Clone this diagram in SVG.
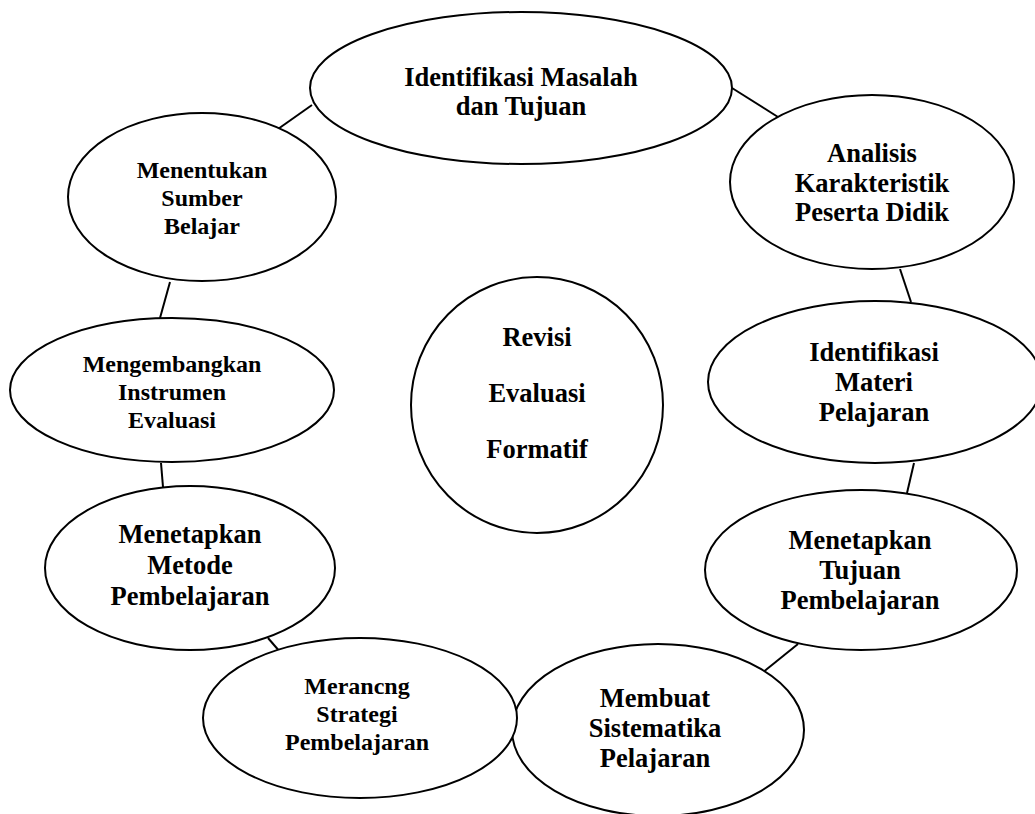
<svg xmlns="http://www.w3.org/2000/svg" width="1035" height="814" viewBox="0 0 1035 814">
<style>
.n{fill:#fff;stroke:#000;stroke-width:2}
.c line{stroke:#000;stroke-width:2}
text{font-family:"Liberation Serif","Times New Roman",serif;font-weight:bold;fill:#000;text-anchor:middle}
.L{font-size:26.5px}
.S{font-size:24px}
</style>
<rect width="1035" height="814" fill="#fff"/>
<g id="connectors" class="c">
<line x1="278" y1="129" x2="312" y2="105"/>
<line x1="732" y1="88" x2="778" y2="117"/>
<line x1="900" y1="269" x2="911" y2="302"/>
<line x1="914" y1="463" x2="907" y2="493"/>
<line x1="798" y1="644" x2="762" y2="673"/>
<line x1="268" y1="638" x2="287" y2="660"/>
<line x1="161" y1="463" x2="163" y2="487"/>
<line x1="170" y1="282" x2="160" y2="318"/>
</g>
<g id="n1"><ellipse class="n" cx="521" cy="88" rx="211" ry="76"/>
<text class="L" x="521" y="86">Identifikasi Masalah</text><text class="L" x="521" y="115">dan Tujuan</text></g>
<g id="n2"><ellipse class="n" cx="872" cy="182" rx="142" ry="87"/>
<text class="L" x="872" y="162">Analisis</text><text class="L" x="872" y="192">Karakteristik</text><text class="L" x="872" y="221">Peserta Didik</text></g>
<g id="n3"><ellipse class="n" cx="875" cy="382" rx="167" ry="81"/>
<text class="L" x="874" y="361">Identifikasi</text><text class="L" x="874" y="391">Materi</text><text class="L" x="874" y="421">Pelajaran</text></g>
<g id="n4"><ellipse class="n" cx="861" cy="570" rx="156" ry="80"/>
<text class="L" x="860" y="549">Menetapkan</text><text class="L" x="860" y="579">Tujuan</text><text class="L" x="860" y="609">Pembelajaran</text></g>
<g id="n5"><ellipse class="n" cx="658" cy="730" rx="146" ry="86"/>
<text class="L" x="655" y="707">Membuat</text><text class="L" x="655" y="737">Sistematika</text><text class="L" x="655" y="767">Pelajaran</text></g>
<g id="n6"><ellipse class="n" cx="360" cy="718" rx="157" ry="80"/>
<text class="S" x="357" y="694">Merancng</text><text class="S" x="357" y="722">Strategi</text><text class="S" x="357" y="750">Pembelajaran</text></g>
<g id="n7"><ellipse class="n" cx="190" cy="568" rx="145" ry="82"/>
<text class="L" x="190" y="543">Menetapkan</text><text class="L" x="190" y="574">Metode</text><text class="L" x="190" y="605">Pembelajaran</text></g>
<g id="n8"><ellipse class="n" cx="172" cy="390" rx="162" ry="72"/>
<text class="S" x="172" y="372">Mengembangkan</text><text class="S" x="172" y="400">Instrumen</text><text class="S" x="172" y="428">Evaluasi</text></g>
<g id="n9"><ellipse class="n" cx="202" cy="197" rx="134" ry="84"/>
<text class="S" x="202" y="178">Menentukan</text><text class="S" x="202" y="206">Sumber</text><text class="S" x="202" y="234">Belajar</text></g>
<g id="n10"><ellipse class="n" cx="537" cy="405" rx="126" ry="128"/>
<text class="L" x="537" y="346">Revisi</text><text class="L" x="537" y="402">Evaluasi</text><text class="L" x="537" y="458">Formatif</text></g>
</svg>
